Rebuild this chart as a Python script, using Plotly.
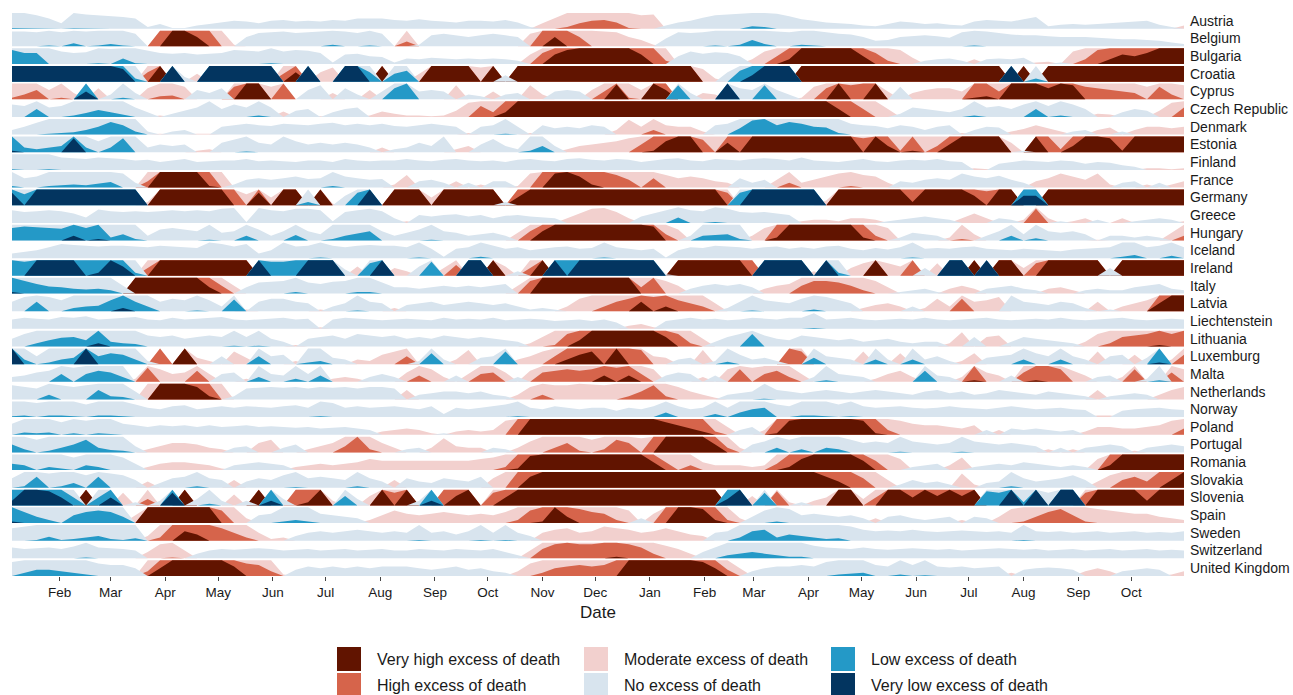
import plotly.graph_objects as go
import pandas as pd

# ---------------- data (weekly values, in band units: +1 moderate, +2 high, +3 very high; negatives mirrored) ----
weeks = pd.date_range("2020-01-05", periods=96, freq="7D").strftime("%Y-%m-%d").tolist()

countries = ["Austria", "Belgium", "Bulgaria", "Croatia", "Cyprus", "Czech Republic", "Denmark",
             "Estonia", "Finland", "France", "Germany", "Greece", "Hungary", "Iceland", "Ireland",
             "Italy", "Latvia", "Liechtenstein", "Lithuania", "Luxemburg", "Malta", "Netherlands",
             "Norway", "Poland", "Portugal", "Romania", "Slovakia", "Slovenia", "Spain", "Sweden",
             "Switzerland", "United Kingdom"]

austria = [-1.05, -1.03, -0.85, -0.65, -0.35, -1.02, -0.90, -0.85,
           -0.80, -0.75, -0.65, -0.10, -0.30, -0.05, -0.05, -0.20,
           -0.30, -0.40, -0.50, -0.45, -0.35, -0.50, -0.55, -0.45,
           -0.50, -0.45, -0.55, -0.50, -0.65, -0.65, -0.65, -0.55,
           -0.50, -0.60, -0.50, -0.45, -0.40, -0.50, -0.50, -0.45,
           -0.55, -0.40, -0.10, 0.35, 0.70, 1.10, 1.35, 1.50,
           1.55, 1.40, 1.05, 0.85, 0.90, -0.20, -0.40, -0.50,
           -0.70, -0.85, -0.90, -0.95, -1.15, -1.10, -0.95, -0.80,
           -0.60, -0.50, -0.40, -0.35, -0.30, -0.20, -0.15, -0.30,
           -0.45, -0.40, -0.30, -0.35, -0.25, -0.20, -0.45, -0.55,
           -0.50, -0.45, -0.60, -0.75, -0.15, -0.25, -0.30, -0.25,
           -0.30, -0.35, -0.40, -0.45, -0.50, -0.25, -0.10, 0.20]
belgium = [-0.95, -0.95, -0.90, -1.05, -0.90, -1.20, -0.95, -1.05,
           -1.15, -1.05, -0.80, 0.00, 2.00, 3.00, 3.00, 2.60,
           2.00, 1.00, 0.10, -0.60, -0.85, -0.90, -0.95, -0.85,
           -0.90, -0.95, -1.10, -0.95, -0.85, -1.05, -0.80, 0.00,
           1.30, -0.10, -0.70, -0.80, -0.70, -0.60, -0.70, -0.80,
           -0.70, -0.60, 0.80, 2.00, 2.60, 2.00, 1.60, 1.00,
           0.95, 0.90, 0.60, 0.40, 0.10, -0.50, -0.90, -0.85,
           -0.90, -1.05, -1.00, -1.10, -1.40, -1.15, -0.95, -0.90,
           -1.10, -1.05, -0.90, -0.80, -0.75, -0.60, -0.35, -0.40,
           -0.60, -0.65, -0.70, -0.65, -0.55, -0.90, -1.05, -0.95,
           -0.85, -0.75, -0.70, -0.70, -0.65, -0.60, -0.60, -0.60,
           -0.55, -0.50, -0.45, -0.45, -0.40, -0.35, -0.25, -0.15]
bulgaria = [-1.90, -1.70, -1.70, -1.00, -0.80, -0.70, -0.75, -1.05,
            -0.95, -1.35, -1.05, -0.85, -0.70, -0.65, -0.70, -0.60,
            -0.65, -0.70, -0.90, -0.85, -0.80, -1.05, -0.80, -0.90,
            -0.85, -0.70, -0.10, -0.60, -0.65, -0.50, -0.45, -0.10,
            -0.35, -0.30, -0.40, -0.35, -0.30, -0.35, -0.30, -0.35,
            -0.30, -0.20, 0.60, 1.70, 2.60, 2.90, 3.00, 3.00,
            3.00, 3.00, 3.00, 2.60, 2.00, 1.20, -0.50, -0.80,
            -0.65, -0.75, -0.70, -0.50, 0.30, 0.80, 1.50, 2.30,
            3.00, 3.00, 3.00, 3.00, 3.00, 2.50, 1.70, 1.20,
            0.90, 0.40, -0.20, -0.30, -0.35, -0.20, 0.30, -0.30,
            -0.35, -0.30, -0.40, 0.10, 0.15, -0.10, 0.80, 1.30,
            1.90, 2.30, 2.60, 2.50, 2.70, 3.00, 3.00, 3.00]
croatia = [-3.0, -3.0, -3.0, -3.0, -3.0, -3.0, -3.0, -3.0,
           -3.0, -2.8, -1.2, 1.6, 3.0, -3.0, -0.3, 0.5,
           -3.0, -3.0, -3.0, -3.0, -3.0, -3.0, 1.5, 2.6,
           -3.0, 0.6, 0.9, -3.0, -3.0, -1.6, 3.0, -1.5,
           -1.7, 0.5, 3.0, 3.0, 3.0, 3.0, 0.9, 3.0,
           -0.4, 3.0, 3.0, 3.0, 3.0, 3.0, 3.0, 3.0,
           3.0, 3.0, 3.0, 3.0, 3.0, 3.0, 3.0, 3.0,
           0.8, 0.2, -0.6, -1.7, -2.4, -3.0, -3.0, -3.0,
           3.0, 3.0, 3.0, 3.0, 3.0, 3.0, 3.0, 3.0,
           3.0, 3.0, 3.0, 3.0, 3.0, 3.0, 3.0, 3.0,
           3.0, -3.0, 3.0, -1.2, 3.0, 3.0, 3.0, 3.0,
           3.0, 3.0, 3.0, 3.0, 3.0, 3.0, 3.0, 3.0]
cyprus = [1.1, 1.3, 1.6, 0.6, 1.1, 0.4, -2.5, 0.7,
          -0.3, -1.1, -0.4, 0.7, 1.2, 1.25, 0.8, -0.6,
          -0.4, -0.7, 1.8, 3.0, 3.0, 0.8, 2.0, 0.0,
          -0.6, -0.9, 0.4, -0.7, -0.3, 0.6, -0.5, -1.7,
          -2.0, -0.5, -0.6, -0.5, 0.9, -0.3, -0.2, 0.5,
          -0.3, -0.4, 0.9, 0.3, -0.5, -0.6, -0.5, 0.6,
          1.5, 2.95, 1.1, 0.6, 3.0, 2.6, -1.9, -0.4,
          0.4, 0.3, -3.0, -0.7, -0.6, -1.9, -0.6, -0.3,
          0.1, 0.8, 1.7, 3.0, 1.9, 2.0, 3.0, 0.5,
          -0.8, 0.4, 0.6, 0.7, 0.7, 0.5, 2.1, 2.2,
          1.5, 3.0, 3.0, 3.0, 2.7, 3.0, 2.9, 1.8,
          1.7, 1.6, 1.5, 1.4, 0.8, 1.8, 1.3, 0.9]
czech = [-0.8, -0.7, -1.5, -0.6, -0.7, -1.1, -1.25, -1.45,
         -1.3, -1.15, -0.6, -0.3, 0.1, -0.2, -0.4, -0.6,
         -1.0, -0.5, -0.8, -0.6, -1.1, -0.6, 0.35, -0.4,
         -0.5, 0.05, -0.3, -0.5, -0.6, 0.1, 0.35, 0.2,
         0.1, 0.1, 0.05, 0.1, 0.4, 0.9, 1.7, 1.3,
         2.3, 3.0, 3.0, 3.0, 3.0, 3.0, 3.0, 3.0,
         3.0, 3.0, 3.0, 3.0, 3.0, 3.0, 3.0, 3.0,
         3.0, 3.0, 3.0, 3.0, 3.0, 3.0, 3.0, 3.0,
         3.0, 3.0, 3.0, 2.5, 2.0, 1.5, 1.0, 0.5,
         -0.2, -0.6, -0.5, -0.4, -0.3, -0.5, -1.1, -0.6,
         -0.7, -0.5, -0.8, -1.5, -0.7, -1.1, -0.8, -0.5,
         0.2, 0.15, -0.3, -0.5, -0.4, 0.4, 0.9, 1.6]
denmark = [-0.3, -0.5, -0.75, -1.05, -1.1, -1.15, -1.3, -1.5,
           -1.8, -1.6, -1.2, -0.2, 0.05, -0.2, -0.3, 0.05,
           0.05, -0.5, -0.6, -0.7, -0.6, -0.55, -0.7, -0.65,
           -0.6, -0.7, -0.75, -0.6, -0.7, -0.6, -0.7, -0.55,
           -0.5, -0.6, -0.7, -0.6, -0.5, 0.1, -0.5, -0.6,
           -1.05, -0.5, 0.1, -0.6, -0.4, -0.5, -0.4, -0.6,
           -0.5, 0.3, 0.95, 0.5, 1.3, 0.6, 0.5, 0.5,
           0.2, -0.6, -0.7, -1.4, -1.9, -2.0, -1.6, -1.8,
           -1.7, -1.5, -1.45, -1.1, -0.7, -0.6, -0.55, -0.4,
           -0.6, -0.5, -0.3, -0.5, -0.6, 0.1, -0.3, -0.5,
           -0.45, 0.2, 0.35, 0.6, 0.4, 0.2, -0.2, -0.3,
           0.3, 0.45, -0.2, 0.3, 0.5, 0.5, 0.4, 0.5]
estonia = [-2.1, -1.3, -1.2, -1.3, -1.4, -2.9, -1.3, -0.7,
           -1.3, -1.9, -1.0, -0.3, -0.5, -0.4, -0.5, 0.1,
           0.2, -0.6, -0.8, -1.05, -0.6, -0.5, -1.02, -0.7,
           -0.5, -0.6, -0.5, -0.6, -0.5, -0.3, 0.3, -0.2,
           -0.3, -0.6, -0.4, -1.0, 0.2, 0.4, -0.5, -0.85,
           -0.4, -0.2, -1.1, -1.4, -0.4, 0.2, 0.4, 0.5,
           0.6, 0.7, 0.9, 1.5, 2.1, 2.7, 3.0, 3.0,
           1.8, 1.0, 2.6, 2.0, 3.0, 3.0, 3.0, 3.0,
           3.0, 3.0, 3.0, 3.0, 3.0, 1.9, 3.0, 2.4,
           1.1, 2.1, 1.0, 1.4, 2.5, 3.0, 3.0, 3.0,
           3.0, 0.6, -0.1, 3.0, 2.0, 1.2, 2.4, 3.0,
           3.0, 2.9, 2.1, 3.0, 3.0, 3.0, 3.0, 3.0]
finland = [-1.05, -1.0, -1.0, -1.05, -0.8, -0.75, -0.7, -0.8,
           -0.75, -0.7, -0.6, -0.65, -0.5, -0.6, -0.7, -0.5,
           -0.55, -0.6, -0.6, -0.7, -0.55, -0.6, -0.55, -0.5,
           -0.6, -0.6, -0.5, -0.7, -0.6, -0.55, -0.6, -0.6,
           -0.7, -0.6, -0.55, -0.65, -0.7, -0.6, -0.55, -0.6,
           -0.5, -0.65, -0.7, -0.6, -0.55, -0.7, -0.75, -0.65,
           -0.6, -0.7, -0.65, -0.5, -0.6, -0.7, -0.75, -0.6,
           -0.55, -0.7, -0.65, -0.6, -0.7, -0.75, -0.7, -0.6,
           -0.8, -0.6, -0.55, -0.5, -0.6, -0.7, -0.55, -0.5,
           -0.6, -0.65, -0.6, -0.7, -0.55, -0.5, 0.1, 0.05,
           -0.4, -0.5, -0.6, -0.55, -0.5, -0.6, -0.55, -0.4,
           -0.5, -0.45, -0.3, -0.2, 0.1, 0.1, 0.05, 0.1]
france = [-1.1, -0.6, -0.7, -1.1, -1.15, -1.2, -1.15, -1.25,
          -1.35, -0.9, -0.3, 1.4, 3.0, 3.0, 3.0, 3.0,
          2.1, 1.0, -0.2, -0.5, -0.6, -0.5, -0.6, -0.7,
          -0.55, -0.6, -1.1, -0.7, -0.6, -0.5, -0.55, 0.2,
          0.8, -0.4, -0.5, -0.3, 0.4, -0.3, 0.2, -0.4,
          -0.4, 0.1, 0.9, 2.0, 2.9, 3.0, 2.7, 2.2,
          2.0, 1.8, 1.5, 1.0, 1.6, 0.8, 0.6, 0.7,
          0.6, 0.4, 0.3, -0.6, -0.3, -0.5, 0.5, 1.3,
          0.3, 0.5, 0.7, 0.9, 1.1, 0.8, 0.7, 0.3,
          -0.4, -0.3, -0.5, -0.6, -0.5, -0.9, -0.7, -0.6,
          -0.75, -0.5, -0.3, 0.4, 0.6, 0.9, 0.7, 0.5,
          0.9, 0.2, -0.3, -0.4, 0.2, -0.3, 0.2, 0.4]
germany = [-2.8, -1.7, -3.0, -3.0, -3.0, -3.0, -3.0, -3.0,
           -3.0, -3.0, -3.0, 0.2, 3.0, 3.0, 3.0, 3.0,
           3.0, 3.0, 2.0, 0.7, 2.8, 0.5, 3.0, 3.0,
           -1.2, 3.0, 0.1, -0.6, -1.8, -3.0, 0.0, 3.0,
           3.0, 3.0, 0.5, 3.0, 3.0, 3.0, 3.0, 3.0,
           -0.2, 2.5, 3.0, 3.0, 3.0, 3.0, 3.0, 3.0,
           3.0, 3.0, 3.0, 3.0, 3.0, 3.0, 3.0, 3.0,
           3.0, 3.0, 1.8, -1.8, -3.0, -3.0, -3.0, -3.0,
           -3.0, -3.0, 0.3, 3.0, 3.0, 3.0, 3.0, 3.0,
           3.0, 2.2, 3.0, 3.0, 3.0, 3.0, 2.6, 1.9,
           3.0, 3.0, -2.6, -2.6, 3.0, 3.0, 3.0, 3.0,
           3.0, 3.0, 3.0, 3.0, 3.0, 3.0, 3.0, 3.0]
greece = [-0.8, -0.7, -0.75, -0.8, -0.75, -0.6, -0.35, -0.85,
          -0.75, -0.7, -0.75, -0.7, -0.75, -0.8, -0.75, -0.8,
          -0.75, -0.9, -0.95, -0.05, -0.95, -0.8, -0.75, -0.9,
          -0.9, -0.8, -0.1, -0.7, -0.8, -0.9, -0.75, -0.3,
          0.1, -0.5, -0.4, -0.5, -0.55, -0.4, -0.5, -0.3,
          -0.45, -0.5, -0.4, -0.35, -0.3, 0.3, 0.6, 0.9,
          0.95, 0.7, 0.3, -0.4, -0.6, -0.8, -1.35, -0.8,
          -0.75, -1.05, -0.9, -0.7, -0.65, -0.7, -0.6, -0.5,
          0.1, 0.2, 0.2, 0.1, 0.3, 0.3, 0.2, -0.1,
          -0.2, -0.3, -0.4, -0.3, -0.2, 0.3, 0.6, 0.3,
          -0.3, -0.2, 0.2, 1.9, 0.3, -0.1, 0.1, 0.3,
          -0.2, 0.0, 0.3, -0.1, -0.2, -0.3, -0.2, 0.1]
hungary = [-1.8, -1.9, -1.85, -1.8, -1.75, -2.3, -1.8, -2.1,
           -1.2, -1.4, -1.1, -0.3, -0.7, -0.8, -0.7, -0.6,
           -1.05, -0.5, -0.6, -1.3, -0.7, -0.3, -0.6, -1.35,
           -0.6, -0.4, -1.1, -1.3, -1.45, -1.6, -0.6, -0.3,
           -0.5, -0.7, -1.05, -0.6, -0.5, -0.3, -0.4, -0.5,
           -0.3, 0.5, 1.6, 2.6, 3.0, 3.0, 3.0, 3.0,
           3.0, 3.0, 3.0, 3.0, 2.9, 1.4, 0.7, -0.3,
           -1.3, -1.35, -1.4, -1.1, 0.3, 0.8, 2.2, 3.0,
           3.0, 3.0, 3.0, 3.0, 3.0, 2.2, 1.3, 0.8,
           -0.2, -0.5, -0.4, -0.3, 0.2, 1.1, 0.4, -0.3,
           -0.6, -1.3, -0.4, -1.15, -0.6, -0.5, -0.6, -0.4,
           0.05, -0.3, -0.3, -0.2, -0.3, -0.2, 0.5, 1.3]
iceland = [-0.3, -0.4, -0.5, -0.7, -0.9, -0.85, -0.8, -0.75,
           -0.8, -0.8, -0.75, -0.7, -0.8, -0.75, -0.7, -0.65,
           -1.02, -0.9, -0.75, -0.9, -0.3, -0.5, -1.03, -0.75,
           -0.8, -1.05, -0.8, -0.7, -0.8, -0.85, -0.8, -0.8,
           -0.7, -1.05, -0.6, -0.1, -0.6, -0.7, -1.1, -0.8,
           -0.6, -0.7, -0.5, -0.6, -0.7, -0.75, -0.6, -0.65,
           -1.05, -0.7, -0.6, -0.5, -0.6, -0.05, -0.5, -0.7,
           -0.65, -0.8, -0.75, -0.7, -0.6, -0.7, -0.75, -0.6,
           -0.7, -0.6, -0.75, -0.8, -0.6, -0.5, -0.65, -0.55,
           -0.7, -1.05, -0.6, -0.65, -0.6, -0.7, -0.75, -0.6,
           -0.55, -0.5, -0.6, -0.55, -0.5, -0.45, -0.55, -0.6,
           -0.65, -0.7, -1.1, -1.2, -0.7, -0.8, -1.15, -0.7]
ireland = [-2.0, -1.9, -3.0, -3.0, -3.0, -3.0, -2.0, -2.2,
           -3.0, -2.6, -1.2, 1.5, 3.0, 3.0, 3.0, 3.0,
           3.0, 3.0, 3.0, 3.0, -3.0, -1.9, -1.9, -2.0,
           -3.0, -3.0, -3.0, -0.4, 0.6, -1.8, -3.0, 0.5,
           0.3, -0.6, -1.9, 0.5, 1.7, -3.0, -3.0, 3.0,
           0.6, -0.3, 1.5, 3.0, -3.0, -2.0, -3.0, -3.0,
           -3.0, -3.0, -3.0, -3.0, -3.0, -0.1, 3.0, 3.0,
           3.0, 3.0, 3.0, 3.0, 2.0, -3.0, -3.0, -3.0,
           -3.0, 0.3, -3.0, -1.2, 0.5, 0.8, 3.0, 0.8,
           0.6, 2.0, -0.5, 0.8, -3.0, -3.0, 3.0, -3.0,
           3.0, 3.0, 0.5, 1.8, 3.0, 3.0, 3.0, 3.0,
           3.0, -0.5, 3.0, 3.0, 3.0, 3.0, 3.0, 3.0]
italy = [-2.1, -1.8, -1.6, -1.45, -1.4, -1.3, -1.25, -1.3,
         -1.2, -0.5, 3.0, 3.0, 3.0, 3.0, 3.0, 3.0,
         2.4, 1.5, 0.5, -0.4, -0.7, -0.75, -0.8, -1.1,
         -0.7, -0.6, -0.75, -0.8, -1.1, -1.1, -0.7, -0.4,
         -0.4, -0.3, -0.4, -0.5, -0.4, -0.5, -0.4, -0.5,
         -0.6, 0.5, 1.8, 3.0, 3.0, 3.0, 3.0, 3.0,
         3.0, 3.0, 3.0, 1.4, 2.0, 0.8, 0.5, -0.3,
         -0.5, -0.6, -0.5, -0.6, -0.4, 0.3, 0.5, 0.6,
         1.5, 1.8, 1.8, 1.7, 1.5, 1.2, 0.8, 0.4,
         -0.1, -0.2, -0.3, -0.1, 0.3, 0.5, 0.3, -0.3,
         -0.4, -0.5, -0.3, -0.2, 0.3, 0.4, 0.2, -0.2,
         -0.3, -0.2, -0.2, -0.4, -0.5, -0.6, -0.3, -0.2]
latvia = [-0.6, -0.9, -1.6, -0.9, -0.7, -1.2, -1.3, -1.35,
          -1.7, -2.2, -1.6, -1.3, -0.6, -0.8, -0.7, -1.05,
          -0.7, -0.3, -1.75, 0.1, -0.6, -0.8, -0.8, -0.6,
          -0.5, 0.1, -0.3, -0.5, -1.05, -0.6, -0.5, 0.2,
          -0.4, -0.5, -0.6, -0.4, -0.5, -0.6, -0.5, -0.4,
          -0.5, -0.3, -0.1, -0.2, -0.1, 0.3, 0.8, 1.0,
          1.3, 1.6, 1.8, 2.6, 1.9, 2.3, 1.7, 1.5,
          1.3, 0.5, -0.2, -0.6, -1.05, -0.7, -0.6, -0.5,
          -0.8, -1.1, -0.9, -0.7, -0.5, 0.2, 0.4, 0.5,
          0.3, -0.3, 0.2, 0.8, 0.3, 1.8, 0.6, 0.7,
          0.9, -1.0, -0.6, -0.5, -0.4, -0.6, -0.5, -0.2,
          0.6, -0.1, 0.3, 0.5, 0.7, 2.5, 3.0, 3.0]
liechtenstein = [-0.6, -0.7, -0.65, -0.6, -0.75, -0.7, -0.8, -0.6,
                 -0.65, -0.7, -0.75, -0.6, -0.55, -0.7, -0.6, -0.65,
                 -0.7, -0.75, -0.6, -0.55, -0.6, -0.65, -0.7, -0.6,
                 -0.65, 0.1, -0.6, -0.7, -0.65, -0.6, -0.55, -0.6,
                 -0.65, -0.6, -0.55, -0.7, -0.6, -0.65, -0.6, -0.7,
                 -0.55, -0.6, -0.65, -0.6, -0.5, -0.55, -0.6, -0.5,
                 -0.6, -0.4, 0.2, 0.3, 0.1, -0.5, -0.6, -0.7,
                 -0.6, -0.65, -0.55, -0.6, -0.7, -0.65, -0.6, -0.7,
                 -0.7, -1.05, -0.6, -0.65, -0.7, -0.6, -0.55, -0.6,
                 -0.65, -0.6, -0.7, -0.6, -0.55, -0.6, -0.65, -0.7,
                 -0.6, -0.55, -0.6, -0.65, -0.6, -0.7, -0.6, -0.55,
                 -0.6, -0.65, -0.7, -0.6, -0.55, -0.6, -0.65, -0.6]
lithuania = [-0.5, -0.8, -1.2, -1.4, -1.55, -1.6, -1.4, -2.2,
             -1.3, -1.2, -1.15, -0.7, -0.6, -0.7, -0.5, -0.6,
             -0.7, -0.6, -1.05, -0.6, -1.05, -0.5, -0.3, 0.1,
             -0.5, -0.6, -0.7, -0.5, -0.8, -0.7, -0.6, -0.7,
             -0.5, -0.6, -0.5, -0.7, -0.6, -0.5, -0.6, -0.5,
             -0.4, -0.3, 0.2, 0.6, 1.1, 1.8, 2.4, 3.0,
             3.0, 3.0, 3.0, 3.0, 3.0, 2.6, 1.8, 1.2,
             0.5, -0.3, -0.6, -0.8, -1.8, -0.7, -0.5, -0.4,
             -0.7, -0.6, -0.5, -0.4, -0.5, -0.3, -0.4, -0.5,
             -0.3, -0.2, -0.3, -0.3, 0.2, 0.9, -0.6, 0.6,
             0.7, -0.3, -0.6, -0.5, -0.4, -0.3, -0.2, 0.3,
             0.8, 1.2, 1.6, 1.7, 1.8, 2.1, 1.8, 2.0]
luxemburg = [-3.0, -1.3, -0.5, -1.1, -1.3, -1.4, -3.0, -1.5,
             -1.7, -1.6, -1.3, -0.2, 2.0, 0.0, 3.0, 0.4,
             0.2, -0.5, 0.8, 0.4, -1.5, -0.5, -0.6, 0.2,
             -1.1, -1.2, -0.4, -0.3, 0.3, 0.2, 0.6, 0.8,
             1.5, -0.2, -1.7, -0.3, 0.3, 0.9, -0.4, -0.5,
             -1.8, 0.3, 0.5, 0.8, 1.5, 2.3, 2.6, 2.8,
             2.0, 3.0, 2.0, 1.9, 0.5, 0.4, -0.3, -0.4,
             0.9, -0.2, -1.15, -0.6, -0.3, -0.4, -0.2, 2.0,
             1.8, -1.4, -0.5, -0.4, -0.3, 0.8, -1.3, -0.3,
             0.7, -1.3, -0.3, -0.5, -0.2, 0.2, 0.7, -0.4,
             -0.5, -0.6, -1.3, -0.7, -0.5, -1.3, -0.5, -0.3,
             0.8, -0.5, -0.6, 0.6, -0.4, -2.1, 0.3, 1.6]
malta = [-0.3, -0.4, -0.6, -0.7, -1.5, -0.9, -1.5, -1.7,
         -1.6, -1.3, 0.2, 1.9, 0.8, 0.5, 0.6, 1.7,
         0.5, -0.5, -0.6, 0.2, -1.3, -0.5, -0.4, -1.2,
         -0.5, -1.4, 0.2, 0.3, 0.2, -0.3, -0.5, -0.3,
         0.6, 1.4, 0.8, 0.3, -0.4, 0.5, 1.5, 1.6,
         0.6, -0.3, 0.7, 1.6, 1.7, 1.8, 1.7, 1.8,
         2.4, 1.9, 2.4, 1.5, 0.8, -0.4, -0.6, -0.5,
         0.3, -0.4, 0.8, 1.8, 0.9, 1.5, 1.7, 1.3,
         0.5, -0.3, -1.1, -0.5, -0.4, -0.3, 0.2, 0.5,
         0.7, 0.3, -1.7, -0.4, -0.3, 0.3, 2.1, 0.6,
         0.4, -0.4, 1.6, 2.1, 2.0, 1.8, 0.7, 0.4,
         -0.3, -0.4, 0.3, 1.8, -0.2, -1.1, 1.6, 0.8]
netherlands = [-0.9, -0.8, -0.7, -1.3, -0.9, -0.8, -0.9, -1.6,
               -1.2, -1.15, -0.5, 1.0, 3.0, 3.0, 3.0, 2.8,
               2.2, 1.0, -0.2, -0.7, -0.75, -0.8, -0.75, -0.8,
               -0.7, -0.8, -0.75, -0.8, -0.7, -0.8, -0.8, -0.7,
               0.6, -0.3, -0.4, -0.5, -0.5, -0.4, -0.5, -0.3,
               -0.2, 0.3, 0.8, 1.3, 0.9, 0.9, 1.0, 0.95,
               0.9, 1.0, 1.2, 1.5, 1.9, 1.2, 0.8, 0.5,
               0.3, 0.1, -0.3, -0.4, -0.5, -1.05, -0.6, -0.5,
               -0.4, -0.5, -0.6, -0.5, -0.4, -0.5, -0.6, -0.5,
               -0.4, -0.3, -0.5, -0.6, -0.4, -0.5, -0.3, -0.4,
               -0.6, -0.5, -0.4, -0.3, -0.5, -0.4, -0.3, -0.2,
               0.6, -0.2, -0.3, -0.4, -0.3, 0.3, 0.6, 0.8]
norway = [-1.05, -1.1, -0.9, -1.1, -1.1, -1.05, -0.8, -1.1,
          -1.1, -1.05, -0.8, -0.6, -0.5, -0.7, -0.75, -0.5,
          -0.6, -0.7, -0.6, -0.7, -0.65, -0.6, -0.7, -0.75,
          -0.6, -1.05, -0.9, -0.6, -0.7, -0.6, -0.65, -0.7,
          -0.6, -0.5, -0.7, -0.2, -0.6, -0.5, -0.6, -0.7,
          -0.8, -1.05, -0.6, -0.5, -0.7, -0.6, -0.5, -0.6,
          -0.6, -0.4, -0.6, -0.5, -0.7, -1.3, -0.7, -0.5,
          -0.6, -1.2, -0.6, -1.3, -1.5, -1.6, -0.8, -0.7,
          -1.1, -1.1, -1.05, -0.8, -1.05, -0.7, -0.6, -0.65,
          -0.7, -0.6, -0.55, -0.6, -0.7, -0.6, -0.55, -0.5,
          -0.6, -0.7, -0.6, -0.5, -0.55, -0.6, -0.5, -0.45,
          0.1, 0.1, -0.4, -0.5, -0.55, -0.6, -0.5, -0.45]
poland = [-0.7, -1.15, -1.1, -1.15, -0.8, -1.1, -0.9, -1.1,
          -1.05, -0.7, -0.6, -0.5, -0.6, -0.55, -0.6, -0.5,
          -0.6, -0.5, -0.55, -0.6, -0.5, -0.55, -0.5, -0.45,
          -0.5, -0.4, -0.45, -0.5, -0.4, -0.3, 0.2, 0.3,
          0.4, 0.3, 0.1, -0.1, 0.2, 0.3, 0.2, 0.3,
          0.9, 2.0, 3.0, 3.0, 3.0, 3.0, 3.0, 3.0,
          3.0, 3.0, 3.0, 3.0, 3.0, 2.8, 2.6, 2.4,
          2.2, 1.2, 0.5, -0.3, -0.5, 0.3, 2.1, 2.9,
          3.0, 3.0, 3.0, 3.0, 3.0, 2.9, 2.1, 1.3,
          0.9, 0.7, 0.6, 0.6, 0.5, 0.4, 0.6, -0.3,
          0.3, -0.4, -0.3, -0.4, -0.3, -0.2, -0.3, 0.2,
          0.5, 0.5, 0.4, 0.4, 0.5, 0.6, 0.9, 1.4]
portugal = [-1.5, -1.2, -0.8, -1.1, -1.3, -1.5, -1.8, -1.3,
            -1.15, -1.1, -0.4, 0.2, 0.4, 0.6, 0.6, 0.5,
            0.3, 0.2, -0.3, -0.4, 0.6, 0.8, -0.3, -0.5,
            0.2, 0.4, 0.6, 1.4, 2.0, 1.2, 0.6, 0.3,
            -0.2, -0.3, 0.3, 0.9, 0.4, 0.3, 0.3, -0.3,
            -0.2, 0.3, 0.7, 1.0, 1.3, 1.6, 1.1, 0.8,
            1.2, 1.8, 1.6, 0.9, 2.0, 3.0, 3.0, 3.0,
            3.0, 2.5, 1.3, 0.3, -0.5, -0.7, -1.3, -0.8,
            -1.2, -1.0, -1.3, -1.2, -0.8, -0.6, -0.7, -0.6,
            -1.05, -0.7, -0.6, -0.5, -0.6, -1.05, -0.7, -0.6,
            -0.5, -0.6, -0.5, -0.4, 0.2, -0.3, 0.2, -0.3,
            -0.4, -0.5, -0.4, 0.1, -0.3, -0.4, -0.5, -0.4]
romania = [-1.4, -1.3, -1.0, -1.2, -1.1, -0.8, -1.3, -1.2,
           -1.0, -0.8, -0.4, 0.2, 0.4, 0.5, 0.5, 0.4,
           0.3, 0.1, -0.3, -0.4, -0.5, -0.4, -0.3, 0.2,
           0.3, 0.4, 0.3, 0.4, 0.5, 0.7, 0.6, 0.6,
           0.6, 0.6, 0.6, 0.6, 0.6, 0.6, 0.7, 0.8,
           1.2, 2.1, 2.9, 3.0, 3.0, 3.0, 3.0, 3.0,
           3.0, 3.0, 3.0, 3.0, 2.5, 1.5, 1.0, 1.3,
           0.5, 0.3, 0.3, 0.3, 0.2, 0.3, 1.4, 2.2,
           2.7, 3.0, 3.0, 3.0, 3.0, 2.6, 1.6, 1.0,
           0.7, -0.2, -0.3, -0.4, 0.3, 0.8, -0.2, -0.3,
           -0.4, -0.3, -0.5, -0.4, -0.3, -0.2, -0.3, -0.2,
           0.7, 2.3, 3.0, 3.0, 3.0, 3.0, 3.0, 3.0]
slovakia = [-0.6, -1.1, -1.7, -0.9, -1.1, -1.3, -0.8, -1.7,
            -0.9, -0.8, -0.5, 0.4, -0.3, -0.6, -0.7, -1.1,
            -0.6, -0.5, 0.5, -0.4, -0.6, -0.5, -0.8, -1.05,
            -0.6, -0.7, -0.6, -0.5, -1.1, -0.6, -0.4, 0.5,
            -0.6, -0.4, -0.3, -0.6, -0.5, -0.4, -0.7, 0.6,
            1.0, 2.0, 2.7, 3.0, 3.0, 3.0, 3.0, 3.0,
            3.0, 3.0, 3.0, 3.0, 3.0, 3.0, 3.0, 3.0,
            3.0, 3.0, 3.0, 3.0, 3.0, 3.0, 3.0, 3.0,
            3.0, 3.0, 2.7, 2.4, 2.0, 1.6, 1.0, 0.5,
            -0.2, -0.5, -0.3, -0.4, -0.2, 0.9, 0.2, -0.3,
            -0.4, -1.1, -0.6, -0.4, -0.5, -0.6, -0.8, -0.5,
            0.4, 0.8, 1.5, 1.7, 1.4, 2.0, 2.5, 3.0]
slovenia = [-2.3, -3.0, -3.0, -2.9, -2.5, -1.5, 3.0, -1.5,
            -2.5, 0.8, -0.2, 1.4, -0.3, -2.8, 3.0, -0.4,
            -1.1, -0.3, 0.7, -0.3, 3.0, -2.3, -0.4, 2.0,
            2.2, 3.0, 0.3, -1.6, -0.4, 0.6, 3.0, 1.8,
            3.0, -0.3, -2.3, 2.0, 2.6, 3.0, 0.0, 1.8,
            2.5, 3.0, 3.0, 3.0, 3.0, 3.0, 3.0, 3.0,
            3.0, 3.0, 3.0, 3.0, 3.0, 3.0, 3.0, 3.0,
            3.0, 3.0, -2.4, -3.0, 0.6, -1.8, 1.9, 0.2,
            -0.2, 0.3, 0.5, 3.0, 3.0, 0.4, 1.5, 3.0,
            3.0, 2.5, 3.0, 2.6, 3.0, 2.6, 3.0, -1.9,
            -1.8, -3.0, -1.2, -3.0, -0.8, -3.0, -3.0, 1.8,
            3.0, 3.0, 3.0, 3.0, 2.3, 3.0, 3.0, 3.0]
spain = [-2.1, -1.7, -1.4, -1.2, -1.0, -1.5, -1.7, -1.8,
         -1.7, -1.4, 0.5, 3.0, 3.0, 3.0, 3.0, 3.0,
         3.0, 1.8, 1.0, 0.3, -0.5, -0.6, -1.1, -1.2,
         -1.1, -0.6, -0.5, -0.4, -0.3, 0.2, 0.5, 0.8,
         0.6, 0.5, 0.6, 0.7, 0.6, 0.5, 0.6, 0.5,
         0.7, 1.2, 1.8, 2.1, 3.0, 2.4, 1.9, 1.7,
         1.6, 1.2, 0.8, -0.3, 0.6, 2.0, 3.0, 3.0,
         2.9, 2.2, 1.2, 0.3, -0.4, -0.8, -1.1, -0.9,
         -0.5, -0.6, -0.5, -0.4, -0.5, -0.3, 0.3, -0.4,
         -0.5, -0.3, -0.2, -0.3, -0.4, 0.2, -0.4, -0.3,
         0.4, 0.9, 1.1, 1.4, 1.7, 1.9, 1.5, 1.1,
         0.9, 0.8, 0.7, 0.6, 0.6, 0.4, 0.3, 0.2]
sweden = [-0.8, -0.9, -1.05, -1.25, -1.05, -1.1, -1.2, -1.3,
          -1.1, -1.05, -1.15, 0.3, 1.2, 2.0, 2.6, 2.4,
          2.0, 1.8, 1.5, 1.2, 0.5, 0.1, 0.2, -0.3,
          -0.5, -0.6, -0.5, -0.6, -0.7, -0.6, -0.5, -0.6,
          -0.5, -1.05, -0.5, -0.6, -0.4, -0.6, -1.05, -0.5,
          -1.05, -0.5, -0.3, 0.5, 0.7, 0.8, 0.5, 0.6,
          0.9, 0.8, 0.7, 0.5, 0.6, 0.8, 0.6, 0.4,
          0.3, -0.5, -0.6, -1.2, -1.6, -1.7, -1.2, -1.4,
          -1.3, -1.2, -1.1, -1.15, -0.9, -0.7, -0.6, -0.65,
          -0.6, -0.7, -0.6, -0.55, -0.6, -0.65, -0.6, -0.55,
          -0.6, -0.5, -1.05, -0.6, -0.55, -0.6, -0.5, -0.55,
          -0.6, -0.5, -0.55, -0.6, -0.5, -0.55, -0.5, -0.6]
switzerland = [-0.7, -0.6, -0.65, -0.7, -0.6, -0.75, -1.05, -0.7,
               -0.65, -0.6, -0.5, 0.4, 0.9, 1.05, 0.5, -0.3,
               -0.5, -0.6, -0.55, -0.6, -0.65, -0.6, -0.5, -0.55,
               -0.6, -0.5, -0.55, -0.6, -0.5, -0.55, -0.6, -0.5,
               -0.5, -0.6, -0.55, -0.5, -0.6, -0.55, -0.5, -0.6,
               -0.4, -0.2, 0.5, 1.6, 1.9, 2.0, 1.9, 1.9,
               2.0, 2.1, 1.9, 1.7, 1.3, 0.8, 0.6, 0.3,
               -0.4, -0.7, -1.2, -1.3, -1.4, -1.3, -1.2, -1.1,
               -1.1, -0.8, -0.7, -0.65, -0.6, -0.7, -0.6, -0.55,
               -0.6, -0.65, -0.6, -0.55, -0.6, -0.5, -0.55, -0.6,
               -0.65, -0.6, -0.55, -0.6, -0.5, -0.55, -0.6, -0.5,
               -0.55, -0.6, -0.5, -0.55, -0.6, -0.5, -0.55, -0.5]
united_kingdom = [-0.9, -1.2, -1.4, -1.4, -1.3, -1.2, -1.1, -0.8,
                  -0.7, -0.7, -0.5, 1.3, 2.5, 3.0, 3.0, 3.0,
                  3.0, 3.0, 2.6, 1.8, 1.7, 1.3, 0.1, -0.4,
                  -0.6, -0.5, -0.6, -0.5, -0.6, -0.5, -0.6, -0.6,
                  -0.6, -0.5, -0.4, -0.5, -0.6, -0.4, -0.5, -0.3,
                  -0.2, 0.3, 0.8, 1.2, 1.5, 1.6, 1.7, 1.6,
                  1.7, 2.0, 3.0, 3.0, 3.0, 3.0, 3.0, 3.0,
                  2.9, 2.5, 1.4, 0.5, -0.3, -0.5, -0.6, -0.6,
                  -0.7, -0.6, -0.9, -1.1, -1.15, -1.2, -0.7, -0.6,
                  -1.1, -0.7, -1.05, -0.6, -0.55, -0.6, -0.5, -0.55,
                  -0.6, 0.2, -0.4, -0.5, -0.55, -0.5, -0.4, 0.3,
                  0.5, 0.3, -0.3, -0.4, -0.5, -0.4, 0.1, 0.3]

series = [austria, belgium, bulgaria, croatia, cyprus, czech, denmark, estonia, finland, france,
          germany, greece, hungary, iceland, ireland, italy, latvia, liechtenstein, lithuania,
          luxemburg, malta, netherlands, norway, poland, portugal, romania, slovakia, slovenia,
          spain, sweden, switzerland, united_kingdom]

band_names = ["Moderate excess of death", "High excess of death", "Very high excess of death",
              "No excess of death", "Low excess of death", "Very low excess of death"]
band_colors = ["#f2d0ce", "#d6644b", "#611400", "#d8e4ee", "#2499c7", "#033560"]
band_sign = [1, 1, 1, -1, -1, -1]
band_level = [0, 1, 2, 0, 1, 2]

# ---------------- layout constants (page pixels; page body margin removed below) ----------------
FIG_W, FIG_H = 1293, 695
ROW_H = 0.8875          # fraction of row pitch that is filled (white gap between rows)
n_rows = len(countries)
PL, PR, PT, PB = 12, 1184, 13, 576   # plot area in pixels
FONT = "Arial, Liberation Sans, Helvetica, sans-serif"

fig = go.Figure()
for name, color, sgn, lvl in zip(band_names, band_colors, band_sign, band_level):
    xs, ys = [], []
    for i, vals in enumerate(series):
        base = n_rows - 1 - i
        tops = [base + ROW_H * min(max(sgn * v - lvl, 0.0), 1.0) for v in vals]
        xs += weeks + weeks[::-1] + [None]
        ys += tops + [base] * len(weeks) + [None]
    fig.add_trace(go.Scatter(x=xs, y=ys, mode="lines", fill="toself", fillcolor=color,
                             line=dict(width=0, color=color), hoverinfo="skip",
                             showlegend=False, name=name))

# ---------------- custom legend (3 columns x 2 rows) ----------------
W = PR - PL
H = PB - PT
def fx(px):
    return (px - PL) / W
def fy(py):
    return (PB - py) / H

legend_order = [["Very high excess of death", "High excess of death"],
                ["Moderate excess of death", "No excess of death"],
                ["Low excess of death", "Very low excess of death"]]
col_x = [337, 584, 831]
row_y = [647, 673]
KEY = 24
shapes = []
annotations = []
for c, col in enumerate(legend_order):
    for r, nm in enumerate(col):
        color = band_colors[band_names.index(nm)]
        shapes.append(dict(type="rect", xref="paper", yref="paper",
                           x0=fx(col_x[c]), x1=fx(col_x[c] + KEY),
                           y0=fy(row_y[r] + KEY), y1=fy(row_y[r]),
                           fillcolor=color, line=dict(width=0), layer="above"))
        annotations.append(dict(xref="paper", yref="paper", x=fx(col_x[c] + 38),
                                y=fy(row_y[r] + KEY / 2 + 0.5), text=nm, showarrow=False,
                                xanchor="left", yanchor="middle",
                                font=dict(family=FONT, size=16, color="#1a1a1a")))

fig.update_layout(
    width=FIG_W, height=FIG_H,
    margin=dict(l=PL, r=FIG_W - PR, t=PT, b=FIG_H - PB, pad=0, autoexpand=False),
    paper_bgcolor="white", plot_bgcolor="white",
    font=dict(family=FONT, color="#1a1a1a"),
    shapes=shapes, annotations=annotations,
    showlegend=False,
    xaxis=dict(type="date", range=[weeks[0], weeks[-1]], tickformat="%b", dtick="M1",
               tick0="2020-02-01", ticks="outside", ticklen=4, tickwidth=1, tickcolor="#444",
               showgrid=False, zeroline=False, showline=False, automargin=False,
               tickfont=dict(family=FONT, size=13.5, color="#1a1a1a"),
               title=dict(text="Date", font=dict(family=FONT, size=17, color="#1a1a1a"), standoff=6)),
    yaxis=dict(range=[0, n_rows - 1 + ROW_H], side="right", automargin=False,
               tickvals=[n_rows - 1 - i + ROW_H / 2 for i in range(n_rows)], ticktext=countries,
               ticks="", showgrid=False, zeroline=False, showline=False, ticklabelstandoff=5,
               tickfont=dict(family=FONT, size=14, color="#1a1a1a")),
)

# place the figure at the page origin (no default 8px body margin, no scrollbars)
fig.write_html("out.html", config={"displayModeBar": False},
               post_script="document.body.style.margin='0';document.body.style.overflow='hidden';")
